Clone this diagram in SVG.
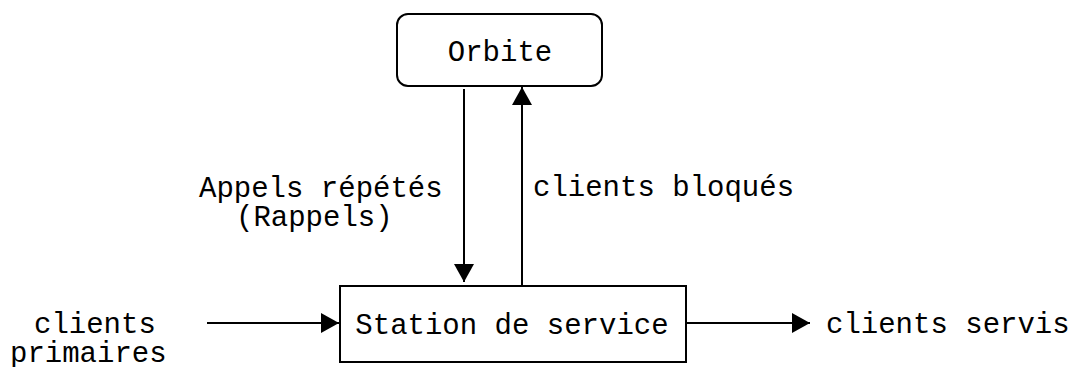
<svg xmlns="http://www.w3.org/2000/svg" width="1074" height="367" viewBox="0 0 1074 367">
<style>
.box{fill:#fff;stroke:#000;stroke-width:2}
.t{font-family:"Liberation Mono","Courier New",monospace;font-size:29px;fill:#000}
.c{stroke:#000;stroke-width:2;fill:none}
</style>
<defs>
<marker id="ah" markerUnits="userSpaceOnUse" markerWidth="20" markerHeight="22" viewBox="0 0 19 22" refX="18" refY="11" orient="auto">
<path d="M0,1 L18,11 L0,21 Z" fill="#000"/>
</marker>
</defs>
<rect width="1074" height="367" fill="#fff"/>
<g id="orbite">
<rect class="box" x="397" y="14" width="205" height="72" rx="11" ry="11"/>
<text class="t" x="500" y="61" text-anchor="middle">Orbite</text>
</g>
<g id="station">
<rect class="box" x="340" y="286" width="346" height="76"/>
<text class="t" x="512" y="334" text-anchor="middle">Station de service</text>
</g>
<g id="connectors">
<line class="c" x1="464" y1="89" x2="464" y2="282" marker-end="url(#ah)"/>
<line class="c" x1="522" y1="286" x2="522" y2="87" marker-end="url(#ah)"/>
<line class="c" x1="207" y1="323" x2="339" y2="323" marker-end="url(#ah)"/>
<line class="c" x1="686" y1="323" x2="810" y2="323" marker-end="url(#ah)"/>
</g>
<g id="labels">
<text class="t" x="199" y="197">Appels répétés</text>
<text class="t" x="236" y="226">(Rappels)</text>
<text class="t" x="533" y="196">clients bloqués</text>
<text class="t" x="34" y="333">clients</text>
<text class="t" x="10" y="362">primaires</text>
<text class="t" x="826" y="333">clients servis</text>
</g>
</svg>
